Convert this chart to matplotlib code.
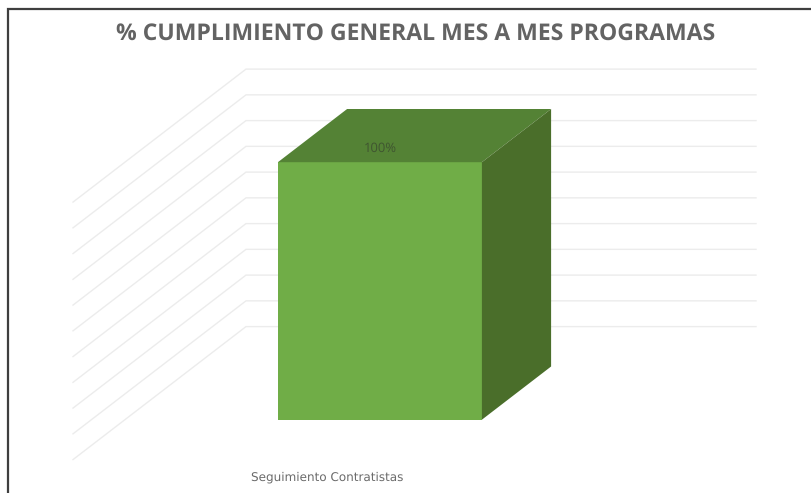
import numpy as np
import matplotlib
matplotlib.use("Agg")
import matplotlib.pyplot as plt
from matplotlib.patches import Polygon

plt.rcParams['text.hinting'] = 'no_hinting'
plt.rcParams['text.hinting_factor'] = 1

title = "% CUMPLIMIENTO GENERAL MES A MES PROGRAMAS"
categories = ["Seguimiento Contratistas"]
values = [1.0]
value_labels = ["100%"]
grid_values = [0.0, 0.1, 0.2, 0.3, 0.4, 0.5, 0.6, 0.7, 0.8, 0.9, 1.0]

# Oblique 3D projection, pixels of the 812x493 picture
X0, Y0 = 73, 459.6
WIDTH, HEIGHT = 510, 257.5
DEPTH_X, DEPTH_Y = 173, 133
BAR_MIN, BAR_MAX = 0.3, 0.7


def project(x, v, d):
    return X0 + WIDTH * x + DEPTH_X * d, Y0 - HEIGHT * v - DEPTH_Y * d


fig = plt.figure(figsize=(8.12, 4.93), dpi=100)
ax = fig.add_axes([0, 0, 1, 1])
ax.set_xlim(0, 812)
ax.set_ylim(493, 0)
ax.axis("off")

# chart frame, cut off on the right and at the bottom of the picture
ax.plot([8.5, 8.5, 812], [493, 8.5, 8.5], color="#3f3f3f", lw=1.6, zorder=1,
        solid_joinstyle="miter")

ax.text(415.5, 34, title, ha="center", va="center", fontsize=16.45,
        fontweight="bold", family="Open Sans", color="#636363")

# back wall and side wall gridlines
for v in grid_values:
    pts = [project(0, v, 0), project(0, v, 1), project(1, v, 1)]
    ax.plot([p[0] for p in pts], [p[1] for p in pts], color="#ececec", lw=1.0,
            zorder=2, solid_joinstyle="miter")

for i, val in enumerate(values):
    front = [project(BAR_MIN, 0, BAR_MIN), project(BAR_MAX, 0, BAR_MIN),
             project(BAR_MAX, val, BAR_MIN), project(BAR_MIN, val, BAR_MIN)]
    top = [project(BAR_MIN, val, BAR_MIN), project(BAR_MAX, val, BAR_MIN),
           project(BAR_MAX, val, BAR_MAX), project(BAR_MIN, val, BAR_MAX)]
    side = [project(BAR_MAX, 0, BAR_MIN), project(BAR_MAX, 0, BAR_MAX),
            project(BAR_MAX, val, BAR_MAX), project(BAR_MAX, val, BAR_MIN)]
    ax.add_patch(Polygon(front, closed=True, fc="#70ad47", ec="none", zorder=3))
    ax.add_patch(Polygon(top, closed=True, fc="#548235", ec="none", zorder=3))
    ax.add_patch(Polygon(side, closed=True, fc="#4a6e2a", ec="none", zorder=3))

    # label sits on the top face, a little above the front edge
    lx, ly = project(0.5, val, BAR_MIN)
    ax.text(lx, ly - 14, value_labels[i], ha="center", va="center", fontsize=9,
            family="Open Sans", color="#3f5530", zorder=4)

    cx, _ = project(0.5, 0, 0)
    ax.text(cx - 0.5, 477.5, categories[i], ha="center", va="center", fontsize=8.3,
            family="DejaVu Sans", color="#6a6a6a")

fig.savefig("out.png", dpi=100)
